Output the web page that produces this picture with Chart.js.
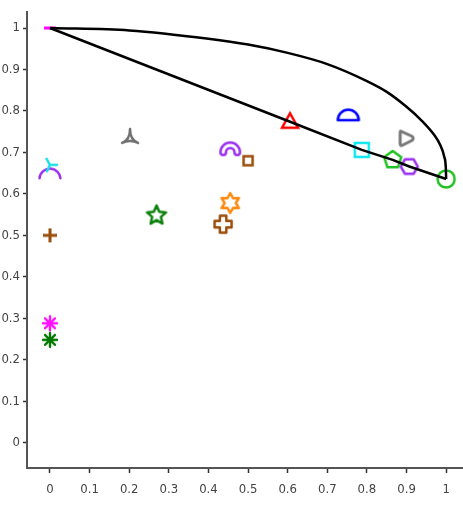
<!DOCTYPE html>
<html>
<head>
<meta charset="utf-8">
<script src="https://cdn.jsdelivr.net/npm/chart.js@4/dist/chart.umd.min.js"></script>
<style>
  body { margin: 0; background: #fff; }
  #wrap { width: 463px; height: 510px; }
</style>
</head>
<body>
<div id="wrap"><canvas id="chart" width="463" height="510"></canvas></div>
<script>
// point values
const pointX = [0, 0, 0, 0, 0, 0, 0.202, 0.269, 0.455, 0.5, 0.455, 0.437, 0.606, 0.753, 0.787, 0.865, 0.907, 0.899, 1.0];
const pointY = [1.0, 0.67, 0.65, 0.5, 0.288, 0.248, 0.735, 0.548, 0.71, 0.68, 0.578, 0.527, 0.774, 0.785, 0.706, 0.682, 0.666, 0.734, 0.636];
const markerShapes = ['dash', 'tri', 'arc', 'plus', 'asterisk', 'asterisk', 'tripod', 'star5', 'arch', 'smallSquare', 'star6', 'greekCross', 'triangle', 'dome', 'square', 'pentagon', 'hexagon', 'roundTri', 'circle'];
const markerColors = ['#ff00ff', '#22e0e8', '#9a2ef0', '#9a4d0a', '#ff10ff', '#007a00', '#707070', '#0a800a', '#9a2ef0', '#9a4d0a', '#ff8a10', '#9a4d0a', '#ff0000', '#0000ff', '#10e8f0', '#20c020', '#9a2ef0', '#777777', '#20c020'];

// front through the best points
const frontX = [0, 0.606, 0.787, 0.865, 0.907, 1.0];
const frontY = [1.0, 0.774, 0.706, 0.682, 0.666, 0.636];

// upper curve
const curveX = [0, 0.2, 0.4, 0.5, 0.6, 0.7, 0.8, 0.85, 0.9, 0.94, 0.97, 0.985, 0.995, 0.999, 1.0];
const curveY = [1.0, 0.994, 0.974, 0.96, 0.94, 0.913, 0.872, 0.846, 0.81, 0.775, 0.742, 0.718, 0.69, 0.665, 0.636];

const xTicks = [0, 0.1, 0.2, 0.3, 0.4, 0.5, 0.6, 0.7, 0.8, 0.9, 1];
const yTicks = [0, 0.1, 0.2, 0.3, 0.4, 0.5, 0.6, 0.7, 0.8, 0.9, 1];

function polyPath(ctx, n, r, rot) {
  ctx.beginPath();
  for (let i = 0; i < n; i++) {
    const a = rot + i * 2 * Math.PI / n;
    const px = Math.cos(a) * r, py = Math.sin(a) * r;
    if (i === 0) ctx.moveTo(px, py); else ctx.lineTo(px, py);
  }
  ctx.closePath();
}

function starPath(ctx, n, ro, ri) {
  ctx.beginPath();
  for (let i = 0; i < 2 * n; i++) {
    const a = -Math.PI / 2 + i * Math.PI / n;
    const r = i % 2 ? ri : ro;
    const px = Math.cos(a) * r, py = Math.sin(a) * r;
    if (i === 0) ctx.moveTo(px, py); else ctx.lineTo(px, py);
  }
  ctx.closePath();
}

function makeMarker(shape, color) {
  const c = document.createElement('canvas');
  c.width = 30; c.height = 30;
  const ctx = c.getContext('2d');
  ctx.translate(15, 15);
  ctx.strokeStyle = color;
  ctx.fillStyle = color;
  ctx.lineWidth = 2.5;
  ctx.lineJoin = 'round';
  ctx.lineCap = 'round';
  if (shape === 'dash') {
    ctx.lineWidth = 3; ctx.lineCap = 'butt';
    ctx.beginPath(); ctx.moveTo(-6, 0); ctx.lineTo(6, 0); ctx.stroke();
  } else if (shape === 'tri') {
    [-120, 0, 115].forEach(d => {
      const a = d * Math.PI / 180;
      ctx.beginPath(); ctx.moveTo(0, 0); ctx.lineTo(Math.cos(a) * 7, Math.sin(a) * 7); ctx.stroke();
    });
  } else if (shape === 'arc') {
    ctx.beginPath(); ctx.arc(0, 6, 10.5, Math.PI * 1.03, Math.PI * 1.97); ctx.stroke();
  } else if (shape === 'plus') {
    ctx.lineWidth = 3; ctx.lineCap = 'butt';
    ctx.beginPath(); ctx.moveTo(-7, 0); ctx.lineTo(7, 0); ctx.moveTo(0, -7); ctx.lineTo(0, 7); ctx.stroke();
  } else if (shape === 'asterisk') {
    ctx.lineWidth = 2.4;
    for (let i = 0; i < 4; i++) {
      const a = i * Math.PI / 4;
      ctx.beginPath();
      ctx.moveTo(-Math.cos(a) * 7, -Math.sin(a) * 7);
      ctx.lineTo(Math.cos(a) * 7, Math.sin(a) * 7);
      ctx.stroke();
    }
  } else if (shape === 'tripod') {
    // hollow triangle with concave sides
    ctx.beginPath();
    ctx.moveTo(0, -9);
    ctx.quadraticCurveTo(0, 2, 8, 5);
    ctx.quadraticCurveTo(0, 1, -8, 5);
    ctx.quadraticCurveTo(0, 2, 0, -9);
    ctx.closePath();
    ctx.stroke();
  } else if (shape === 'star5') {
    starPath(ctx, 5, 10, 4.6); ctx.stroke();
  } else if (shape === 'arch') {
    ctx.lineWidth = 8;
    ctx.beginPath(); ctx.arc(0, 4, 7, Math.PI, 2 * Math.PI); ctx.stroke();
    ctx.strokeStyle = '#fff'; ctx.lineWidth = 3;
    ctx.beginPath(); ctx.arc(0, 4, 7, Math.PI, 2 * Math.PI); ctx.stroke();
  } else if (shape === 'smallSquare') {
    ctx.lineJoin = 'miter'; ctx.lineCap = 'butt';
    ctx.strokeRect(-4.5, -4.5, 9, 9);
  } else if (shape === 'star6') {
    starPath(ctx, 6, 10, 5.6); ctx.stroke();
  } else if (shape === 'greekCross') {
    const a = 3.2, b = 8.5;
    ctx.beginPath();
    ctx.moveTo(-a, -b); ctx.lineTo(a, -b); ctx.lineTo(a, -a); ctx.lineTo(b, -a); ctx.lineTo(b, a);
    ctx.lineTo(a, a); ctx.lineTo(a, b); ctx.lineTo(-a, b); ctx.lineTo(-a, a); ctx.lineTo(-b, a);
    ctx.lineTo(-b, -a); ctx.lineTo(-a, -a); ctx.closePath(); ctx.stroke();
  } else if (shape === 'triangle') {
    ctx.lineJoin = 'miter';
    ctx.beginPath(); ctx.moveTo(0, -8.5); ctx.lineTo(8, 6); ctx.lineTo(-8, 6); ctx.closePath(); ctx.stroke();
  } else if (shape === 'dome') {
    ctx.beginPath(); ctx.arc(0, 3, 10.5, Math.PI, 2 * Math.PI); ctx.closePath(); ctx.stroke();
  } else if (shape === 'square') {
    ctx.lineJoin = 'miter';
    ctx.strokeRect(-7, -7, 14, 14);
  } else if (shape === 'pentagon') {
    polyPath(ctx, 5, 9, -Math.PI / 2); ctx.stroke();
  } else if (shape === 'hexagon') {
    polyPath(ctx, 6, 8.5, 0); ctx.stroke();
  } else if (shape === 'roundTri') {
    ctx.lineWidth = 3;
    ctx.beginPath();
    ctx.moveTo(-5, -7); ctx.lineTo(6, -2);
    ctx.quadraticCurveTo(8, 0, 6, 2);
    ctx.lineTo(-4, 7); ctx.quadraticCurveTo(-6, 8, -6, 5);
    ctx.lineTo(-6, -5); ctx.quadraticCurveTo(-6, -8, -5, -7);
    ctx.stroke();
  } else if (shape === 'circle') {
    ctx.beginPath(); ctx.arc(0, 0, 8.5, 0, 2 * Math.PI); ctx.stroke();
  }
  return c;
}

const datasets = [];

datasets.push({
  type: 'line',
  data: frontX.map((x, i) => ({ x: x, y: frontY[i] })),
  borderColor: '#000', borderWidth: 2.5, pointRadius: 0, tension: 0, order: 0
});
datasets.push({
  type: 'line',
  data: curveX.map((x, i) => ({ x: x, y: curveY[i] })),
  borderColor: '#000', borderWidth: 2.5, pointRadius: 0,
  cubicInterpolationMode: 'monotone', order: 0
});

pointX.forEach((x, i) => {
  datasets.push({
    type: 'scatter',
    data: [{ x: x, y: pointY[i] }],
    pointStyle: makeMarker(markerShapes[i], markerColors[i]),
    pointRadius: 10,
    order: 1
  });
});

const tickFont = { family: "'Liberation Sans Narrow', 'DejaVu Sans Condensed', 'Liberation Sans', sans-serif", size: 13 };

new Chart(document.getElementById('chart'), {
  type: 'scatter',
  data: { datasets: datasets },
  options: {
    responsive: false,
    animation: false,
    layout: { autoPadding: false, padding: { top: 12, right: 1, left: 0, bottom: 0 } },
    plugins: { legend: { display: false }, tooltip: { enabled: false } },
    scales: {
      x: {
        type: 'linear',
        min: -0.058,
        max: 1.04,
        afterBuildTicks: axis => { axis.ticks = xTicks.map(v => ({ value: v })); },
        afterFit: axis => { axis.height = 42; axis.paddingLeft = 0; axis.paddingRight = 0; },
        grid: { drawOnChartArea: false, tickLength: 5, tickColor: '#333', tickWidth: 1.5 },
        border: { color: '#555', width: 2 },
        ticks: { color: '#444', font: tickFont, padding: 9, maxRotation: 0, callback: v => String(v) }
      },
      y: {
        type: 'linear',
        min: -0.061,
        max: 1.0386,
        afterBuildTicks: axis => { axis.ticks = yTicks.map(v => ({ value: v })); },
        afterFit: axis => { axis.width = 27; axis.paddingTop = 0; axis.paddingBottom = 0; },
        grid: { drawOnChartArea: false, tickLength: 4, tickColor: '#333', tickWidth: 1.5 },
        border: { color: '#555', width: 2 },
        ticks: { color: '#444', font: tickFont, padding: 3, callback: v => String(v) }
      }
    }
  }
});
</script>
</body>
</html>
